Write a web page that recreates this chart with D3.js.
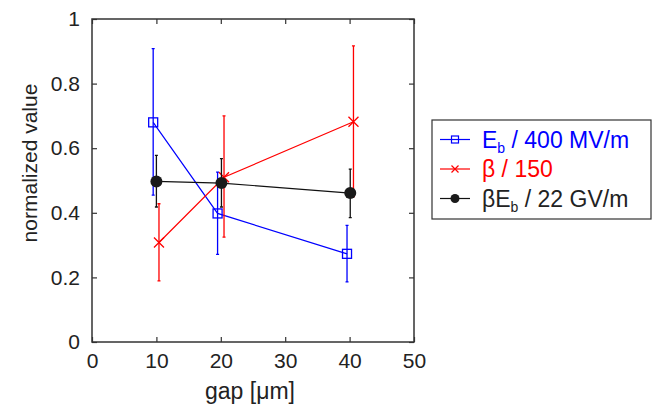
<!DOCTYPE html>
<html>
<head>
<meta charset="utf-8">
<script src="https://cdn.jsdelivr.net/npm/d3@7"></script>
<style>
  body { margin: 0; background: #fff; }
  text { font-family: "Liberation Sans", Arial, sans-serif; }
</style>
</head>
<body>
<div id="chart"></div>
<script>
// donnees
const xTicks = [0, 10, 20, 30, 40, 50];
const yTicks = [0, 0.2, 0.4, 0.6, 0.8, 1];

const ebX = [9.5, 19.5, 39.6];
const ebY = [0.680, 0.398, 0.273];
const ebLo = [0.455, 0.271, 0.186];
const ebHi = [0.908, 0.526, 0.361];

const betaX = [10.4, 20.5, 40.6];
const betaY = [0.308, 0.51, 0.682];
const betaLo = [0.189, 0.325, 0.45];
const betaHi = [0.428, 0.700, 0.917];

const prodX = [10.0, 20.1, 40.1];
const prodY = [0.497, 0.492, 0.461];
const prodLo = [0.418, 0.418, 0.385];
const prodHi = [0.578, 0.568, 0.535];

const W = 654, H = 409;
const margin = { left: 92, right: 240, top: 19, bottom: 67 };
const w = W - margin.left - margin.right;
const h = H - margin.top - margin.bottom;

const svg = d3.select("#chart").append("svg")
  .attr("width", W).attr("height", H);

const g = svg.append("g")
  .attr("transform", `translate(${margin.left},${margin.top})`);

const x = d3.scaleLinear().domain([0, 50]).range([0, w]);
const y = d3.scaleLinear().domain([0, 1]).range([h, 0]);

const axisColor = "#333";

// Axes (ticks vers l'interieur, sur les 4 cotes)
function styleAxis(sel) {
  sel.attr("font-size", null).attr("font-family", null);
  sel.select(".domain").remove();
  sel.selectAll("line").attr("stroke", axisColor).attr("stroke-width", 1.2);
  sel.selectAll("text").style("font-size", "21px").attr("fill", "#222");
}

g.append("g").attr("transform", `translate(0,${h})`)
  .call(d3.axisBottom(x).tickValues(xTicks).tickSize(-5).tickPadding(11).tickFormat(d3.format("d")))
  .call(styleAxis);
g.append("g")
  .call(d3.axisTop(x).tickValues(xTicks).tickSize(-5).tickFormat(""))
  .call(styleAxis);
g.append("g")
  .call(d3.axisLeft(y).tickValues(yTicks).tickSize(-5).tickPadding(12).tickFormat(d => d === 0 || d === 1 ? d3.format("d")(d) : d3.format(".1f")(d)))
  .call(styleAxis);
g.append("g").attr("transform", `translate(${w},0)`)
  .call(d3.axisRight(y).tickValues(yTicks).tickSize(-5).tickFormat(""))
  .call(styleAxis);

g.append("rect")
  .attr("width", w).attr("height", h)
  .attr("fill", "none").attr("stroke", axisColor).attr("stroke-width", 1.5);

// Titres des axes
svg.append("text")
  .attr("x", 250).attr("y", 399)
  .attr("text-anchor", "middle")
  .style("font-size", "23px").attr("fill", "#222")
  .text("gap [\u03bcm]");

svg.append("text")
  .attr("transform", "rotate(-90)")
  .attr("x", -163).attr("y", 37)
  .attr("text-anchor", "middle")
  .style("font-size", "21px").attr("fill", "#222")
  .text("normalized value");

// Series
const series = [
  { xs: ebX, ys: ebY, lo: ebLo, hi: ebHi, color: "#0000ff", marker: "square" },
  { xs: betaX, ys: betaY, lo: betaLo, hi: betaHi, color: "#ff0000", marker: "cross" },
  { xs: prodX, ys: prodY, lo: prodLo, hi: prodHi, color: "#111", marker: "dot" }
];

function drawMarker(sel, type, color) {
  if (type === "square") {
    sel.append("rect").attr("x", -4.5).attr("y", -4.5).attr("width", 9).attr("height", 9)
      .attr("fill", "none").attr("stroke", color).attr("stroke-width", 1.3);
  } else if (type === "cross") {
    sel.append("path").attr("d", "M-5,-5L5,5M-5,5L5,-5")
      .attr("stroke", color).attr("stroke-width", 1.3);
  } else {
    sel.append("circle").attr("r", 6).attr("fill", "#1a1a1a");
  }
}

series.forEach(s => {
  const pts = s.xs.map((xv, i) => ({ x: xv, y: s.ys[i], lo: s.lo[i], hi: s.hi[i] }));
  const sg = g.append("g");

  // barres d'erreur
  sg.selectAll(".err").data(pts).enter().append("path")
    .attr("d", d => {
      const px = x(d.x), y0 = y(d.lo), y1 = y(d.hi);
      return `M${px},${y0}L${px},${y1}M${px - 1.5},${y0}L${px + 1.5},${y0}M${px - 1.5},${y1}L${px + 1.5},${y1}`;
    })
    .attr("fill", "none").attr("stroke", s.color).attr("stroke-width", 1.3);

  sg.append("path").datum(pts)
    .attr("d", d3.line().x(d => x(d.x)).y(d => y(d.y)))
    .attr("fill", "none").attr("stroke", s.color).attr("stroke-width", 1.2);

  sg.selectAll(".mk").data(pts).enter().append("g")
    .attr("transform", d => `translate(${x(d.x)},${y(d.y)})`)
    .each(function () { drawMarker(d3.select(this), s.marker, s.color); });
});

// Legende
const leg = svg.append("g").attr("transform", "translate(432,120)");
leg.append("rect").attr("width", 219).attr("height", 99)
  .attr("fill", "#fff").attr("stroke", "#333").attr("stroke-width", 1.2);

const legItems = [
  { color: "#0000ff", marker: "square", main: "E", sub: "b", rest: " / 400 MV/m" },
  { color: "#ff0000", marker: "cross", main: "\u03b2 / 150", sub: "", rest: "" },
  { color: "#111", marker: "dot", main: "\u03b2E", sub: "b", rest: " / 22 GV/m" }
];

legItems.forEach((it, i) => {
  const row = leg.append("g").attr("transform", `translate(0,${19.5 + i * 29.5})`);
  row.append("line").attr("x1", 8).attr("x2", 38)
    .attr("stroke", it.color).attr("stroke-width", 1.2);
  const m = row.append("g").attr("transform", "translate(23,0)");
  if (it.marker === "square") {
    m.append("rect").attr("x", -3.5).attr("y", -3.5).attr("width", 7).attr("height", 7)
      .attr("fill", "none").attr("stroke", it.color).attr("stroke-width", 1.2);
  } else if (it.marker === "cross") {
    m.append("path").attr("d", "M-3.5,-3.5L3.5,3.5M-3.5,3.5L3.5,-3.5")
      .attr("stroke", it.color).attr("stroke-width", 1.2);
  } else {
    m.append("circle").attr("r", 4.5).attr("fill", "#1a1a1a");
  }
  const t = row.append("text").attr("x", 50).attr("y", 8)
    .style("font-size", "23px").attr("fill", it.color === "#111" ? "#222" : it.color);
  t.append("tspan").text(it.main);
  if (it.sub) {
    t.append("tspan").attr("dy", 5).style("font-size", "14px").text(it.sub);
    t.append("tspan").attr("dy", -5).text(it.rest);
  }
});
</script>
</body>
</html>
